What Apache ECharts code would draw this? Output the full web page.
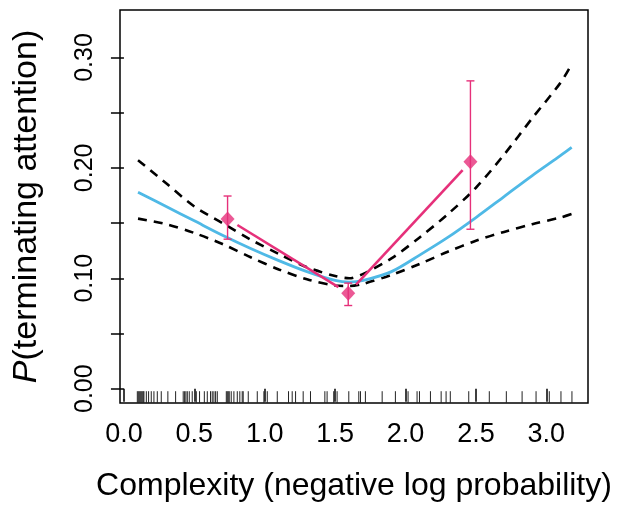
<!DOCTYPE html>
<html>
<head>
<meta charset="utf-8">
<script src="https://cdn.jsdelivr.net/npm/echarts@6/dist/echarts.min.js"></script>
<style>html,body{margin:0;padding:0;background:#fff;}#c{width:624px;height:510px;}</style>
</head>
<body>
<div id="c"></div>
<script>
// ---- data ----
var xTicks = [0.0, 0.5, 1.0, 1.5, 2.0, 2.5, 3.0];
var yTicks = [0.00, 0.05, 0.10, 0.15, 0.20, 0.25, 0.30];
var yTickLabels = [0.00, 0.10, 0.20, 0.30];

var fitX = [0.1, 0.3, 0.5, 0.7, 0.9, 1.1, 1.3, 1.5, 1.6, 1.7, 1.9, 2.1, 2.3, 2.5, 2.7, 2.9, 3.1, 3.18];
var fitY = [0.178, 0.165, 0.152, 0.139, 0.127, 0.116, 0.106, 0.098, 0.0965, 0.098, 0.106, 0.121, 0.137, 0.155, 0.174, 0.193, 0.211, 0.2185];

var upperX = [0.1, 0.3, 0.5, 0.7, 0.9, 1.1, 1.3, 1.5, 1.6, 1.7, 1.9, 2.1, 2.3, 2.5, 2.7, 2.9, 3.1, 3.18];
var upperY = [0.207, 0.186, 0.165, 0.150, 0.135, 0.122, 0.110, 0.102, 0.100, 0.104, 0.118, 0.137, 0.158, 0.182, 0.212, 0.245, 0.277, 0.2939];

var lowerX = [0.1, 0.3, 0.5, 0.7, 0.9, 1.1, 1.3, 1.5, 1.6, 1.7, 1.9, 2.1, 2.3, 2.5, 2.7, 2.9, 3.1, 3.18];
var lowerY = [0.154, 0.149, 0.141, 0.131, 0.119, 0.108, 0.099, 0.0935, 0.093, 0.095, 0.103, 0.113, 0.124, 0.134, 0.142, 0.149, 0.155, 0.1582];

var binX = [0.736, 1.593, 2.461];
var binY = [0.1537, 0.0865, 0.2055];
var binLo = [0.1354, 0.0753, 0.1444];
var binHi = [0.1745, 0.0956, 0.2788];

var rugX = [0.095,0.102,0.109,0.116,0.123,0.13,0.137,0.142,0.159,0.175,0.194,0.213,0.237,0.265,0.312,0.367,
  0.421,0.431,0.44,0.45,0.464,0.485,0.514,0.537,0.571,0.592,0.615,0.627,0.639,0.651,0.663,
  0.727,0.734,0.741,0.748,0.762,0.781,0.805,0.823,0.840,0.847,0.883,0.947,0.994,1.018,1.089,
  1.169,1.195,1.219,1.273,1.325,1.427,1.443,1.490,1.514,1.597,1.668,1.680,1.715,1.834,1.928,
  2.018,2.082,2.099,2.177,2.253,2.288,2.318,2.449,2.595,2.716,2.828,2.927,3.021,3.104,3.182];

var X_MIN = -0.028, X_MAX = 3.296, Y_MIN = -0.013, Y_MAX = 0.343;

// ---- styles ----
var FONT = 'Liberation Sans, Arial, Helvetica, sans-serif';
var PINK = '#E6307A';
var BLUE = '#4FB9E6';

function zip(a, b) { return a.map(function (v, i) { return [v, b[i]]; }); }

var chart = echarts.init(document.getElementById('c'), null, {renderer: 'canvas'});

var option = {
  animation: false,
  backgroundColor: '#fff',
  grid: {left: 120, right: 36, top: 10, bottom: 107, show: true, borderColor: '#000', borderWidth: 1.5, backgroundColor: 'transparent'},
  xAxis: {
    type: 'value', min: X_MIN, max: X_MAX,
    axisLine: {show: false},
    splitLine: {show: false},
    axisTick: {show: true, inside: false, length: 13, customValues: xTicks, lineStyle: {color: '#000', width: 1.5}},
    axisLabel: {customValues: xTicks, margin: 18, fontSize: 27, fontFamily: FONT, color: '#000',
      formatter: function (v) { return v.toFixed(1); }},
    name: 'Complexity (negative log probability)',
    nameLocation: 'middle', nameGap: 67,
    nameTextStyle: {fontSize: 32, fontFamily: FONT, color: '#000'}
  },
  yAxis: {
    type: 'value', min: Y_MIN, max: Y_MAX,
    axisLine: {show: false},
    splitLine: {show: false},
    axisTick: {show: true, inside: false, length: 13, customValues: yTicks, lineStyle: {color: '#000', width: 1.5}},
    axisLabel: {customValues: yTickLabels, rotate: 90, margin: 22, fontSize: 25, fontFamily: FONT, color: '#000',
      formatter: function (v) { return v.toFixed(2); }},
    name: '{it|P}(terminating attention)',
    nameLocation: 'middle', nameGap: 76, nameRotate: 90,
    nameTextStyle: {fontSize: 34, fontFamily: FONT, color: '#000',
      rich: {it: {fontStyle: 'italic', fontSize: 34, fontFamily: FONT, color: '#000'}}}
  },
  series: [
    {
      type: 'custom', name: 'rug', silent: true,
      data: rugX.map(function (v) { return [v]; }),
      renderItem: function (params, api) {
        var p = api.coord([api.value(0), Y_MIN]);
        var h = params.coordSys.height * 0.03;
        return {type: 'line', shape: {x1: p[0], y1: p[1], x2: p[0], y2: p[1] - h},
          style: {stroke: '#222', lineWidth: 1}};
      },
      encode: {x: 0}, z: 2
    },
    {
      type: 'line', name: 'upper', data: zip(upperX, upperY), smooth: 0.3, showSymbol: false,
      lineStyle: {color: '#000', width: 2.6, type: [9, 7], cap: 'butt'}, z: 3
    },
    {
      type: 'line', name: 'lower', data: zip(lowerX, lowerY), smooth: 0.3, showSymbol: false,
      lineStyle: {color: '#000', width: 2.6, type: [9, 7], cap: 'butt'}, z: 3
    },
    {
      type: 'line', name: 'fit', data: zip(fitX, fitY), smooth: 0.3, showSymbol: false,
      lineStyle: {color: BLUE, width: 2.8}, z: 4
    },
    {
      type: 'custom', name: 'binLines', silent: true,
      data: zip(binX, binY).slice(0, binX.length - 1),
      renderItem: function (params, api) {
        var i = params.dataIndex;
        var a = api.coord([binX[i], binY[i]]);
        var b = api.coord([binX[i + 1], binY[i + 1]]);
        var dx = b[0] - a[0], dy = b[1] - a[1];
        var len = Math.sqrt(dx * dx + dy * dy);
        var gap = 11.5;
        var ux = dx / len, uy = dy / len;
        return {type: 'line', shape: {x1: a[0] + ux * gap, y1: a[1] + uy * gap, x2: b[0] - ux * gap, y2: b[1] - uy * gap},
          style: {stroke: PINK, lineWidth: 2.6}};
      },
      z: 5
    },
    {
      type: 'custom', name: 'errorBars', silent: true,
      data: binX.map(function (v, i) { return [v, binLo[i], binHi[i]]; }),
      renderItem: function (params, api) {
        var lo = api.coord([api.value(0), api.value(1)]);
        var hi = api.coord([api.value(0), api.value(2)]);
        var w = 4;
        var st = {stroke: PINK, lineWidth: 1.4};
        return {type: 'group', children: [
          {type: 'line', shape: {x1: lo[0], y1: lo[1], x2: hi[0], y2: hi[1]}, style: st},
          {type: 'line', shape: {x1: lo[0] - w, y1: lo[1], x2: lo[0] + w, y2: lo[1]}, style: st},
          {type: 'line', shape: {x1: hi[0] - w, y1: hi[1], x2: hi[0] + w, y2: hi[1]}, style: st}
        ]};
      },
      z: 5
    },
    {
      type: 'scatter', name: 'bins', data: zip(binX, binY), symbol: 'diamond', symbolSize: [14, 15],
      itemStyle: {color: PINK}, z: 6
    }
  ]
};
chart.setOption(option);
</script>
</body>
</html>
